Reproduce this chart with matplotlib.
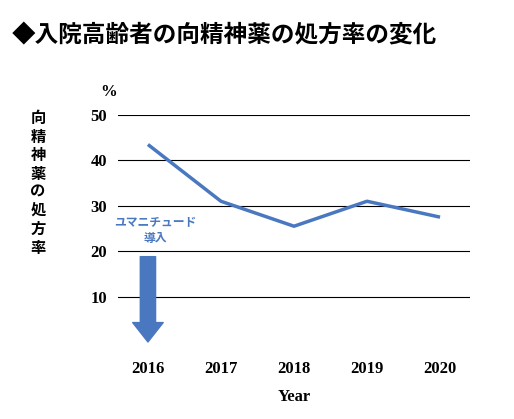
import matplotlib
matplotlib.use("Agg")
import matplotlib.pyplot as plt

years = [2016, 2017, 2018, 2019, 2020]
rates = [43.5, 31.0, 25.5, 31.0, 27.5]
yticks = [10, 20, 30, 40, 50]
title = "◆入院高齢者の向精神薬の処方率の変化"
ylabel_chars = ["向", "精", "神", "薬", "の", "処", "方", "率"]
note = "ユマニチュード\n導入"

plt.rcParams['font.family'] = ['Noto Sans CJK JP', 'DejaVu Sans']
blue = "#4a78c0"
fig = plt.figure(figsize=(5.14, 4.19), dpi=100)
ax = fig.add_axes([118/514, 1-342/419, 352/514, 227/419])
ax.plot(years, rates, color=blue, lw=2.5, solid_capstyle='butt')
ax.set_xlim(2015.59, 2020.41)
ax.set_ylim(0, 50)
for y in yticks:
    ax.axhline(y, color='black', lw=0.8, zorder=0)
ax.set_yticks(yticks)
ax.set_xticks(years)
serif = {'family': 'Liberation Serif', 'weight': 'bold', 'size': 12}
ax.set_yticklabels([str(v) for v in yticks], fontdict=serif)
ax.set_xticklabels([str(v) for v in years], fontdict=serif)
ax.tick_params(length=0, pad=8)
ax.tick_params(axis='x', pad=14)
for s in ax.spines.values():
    s.set_visible(False)
ax.set_xlabel("Year", fontdict=serif, labelpad=8)
ax.annotate("", xy=(2016, 0), xytext=(2016, 18.8),
            arrowprops=dict(facecolor=blue, edgecolor=blue, width=11, headwidth=22, headlength=14))
ax.text(2016.1, 24.5, note, color=blue, fontsize=8.5, fontweight='bold', ha='center', va='center', linespacing=1.3)
fig.text(100/514, 1-92/419, "%", fontdict={'family': 'Liberation Serif', 'weight': 'bold', 'size': 12}, ha='left', va='center')
fig.text(12/514, 1-35/419, title, fontsize=17, fontweight='bold', ha='left', va='center')
for i, c in enumerate(ylabel_chars):
    fig.text(38/514, 1-(118+i*18.5)/419, c, fontsize=11, fontweight='bold', ha='center', va='center')
fig.savefig("out.png", dpi=100)
